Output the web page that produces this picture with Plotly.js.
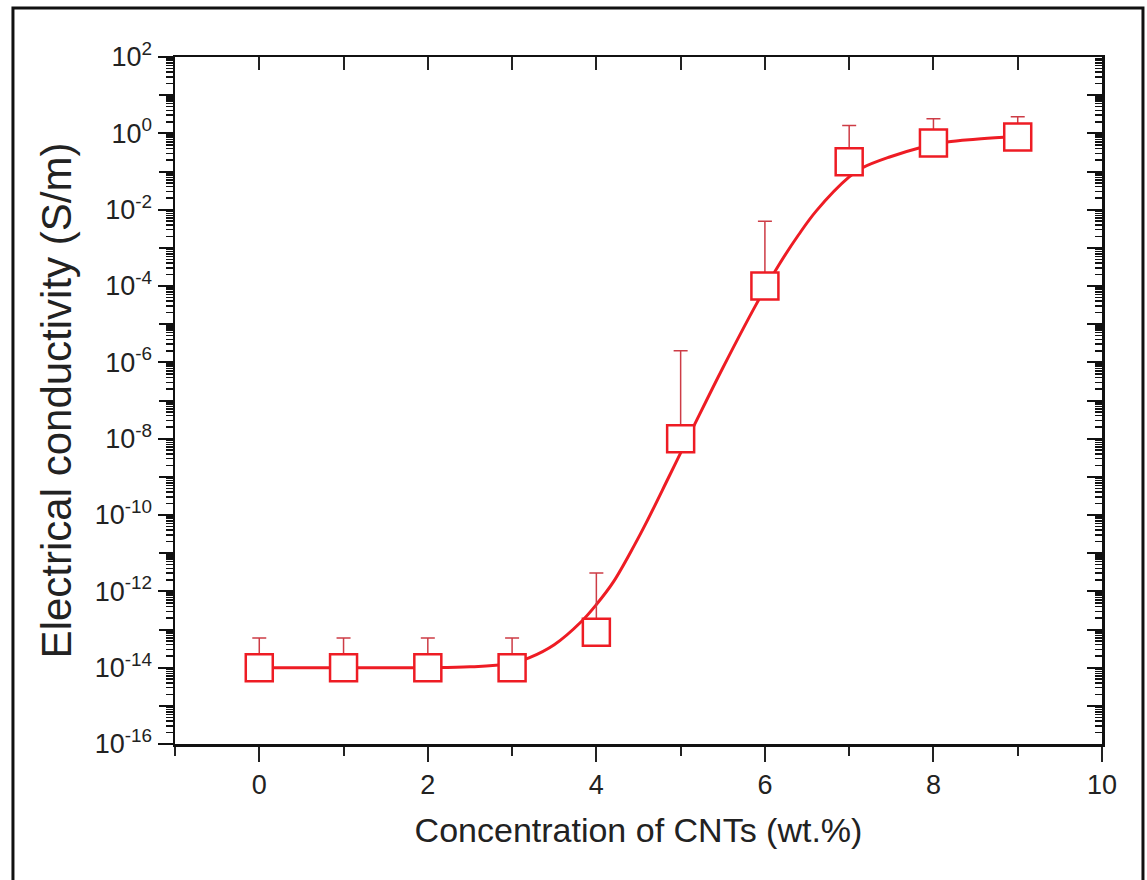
<!DOCTYPE html>
<html>
<head>
<meta charset="utf-8">
<script src="https://cdn.plot.ly/plotly-3.0.1.min.js"></script>
<style>
  html, body { margin: 0; padding: 0; background: #fff; }
  #chart { width: 1147px; height: 880px; }
</style>
</head>
<body>
<div id="chart"></div>
<script>
// Measured points: CNT concentration (wt.%) vs electrical conductivity (S/m)
const concentration = [0, 1, 2, 3, 4, 5, 6, 7, 8, 9];
const conductivity = [1.0e-14, 1.0e-14, 1.0e-14, 1.0e-14, 8.5e-14, 1.0e-8, 1.0e-4, 0.18, 0.56, 0.80];
const errorTop = [6.0e-14, 6.0e-14, 6.0e-14, 6.0e-14, 3.0e-12, 2.0e-6, 5.0e-3, 1.6, 2.4, 2.7];

// Fitted curve
const fitX = [0, 1, 2, 2.5, 3.0, 3.2, 3.5, 3.82, 4.0, 4.2, 4.45, 4.6, 4.87, 5.15, 5.5, 5.9, 6.18, 6.4, 6.61, 7.0, 7.16, 7.48, 7.84, 8.16, 8.5, 8.83, 9.0];
const fitY = [1.0e-14, 1.0e-14, 1.0e-14, 1.05e-14, 1.3e-14, 1.8e-14, 4.0e-14, 1.6e-13, 4.5e-13, 1.74e-12, 1.6e-11, 6.8e-11, 1.1e-9, 2.0e-8, 7.1e-7, 3.4e-5, 4.0e-4, 2.2e-3, 9.3e-3, 0.072, 0.126, 0.24, 0.42, 0.59, 0.70, 0.79, 0.83];

// Axis ticks
const yLabelVals = [1e-16, 1e-14, 1e-12, 1e-10, 1e-8, 1e-6, 1e-4, 1e-2, 1e0, 1e2];
const yLabelText = ['10<sup>-16</sup>', '10<sup>-14</sup>', '10<sup>-12</sup>', '10<sup>-10</sup>', '10<sup>-8</sup>', '10<sup>-6</sup>', '10<sup>-4</sup>', '10<sup>-2</sup>', '10<sup>0</sup>', '10<sup>2</sup>'];
const yOddDecades = [1e-15, 1e-13, 1e-11, 1e-9, 1e-7, 1e-5, 1e-3, 1e-1, 1e1];
const yAllDecades = [1e-16, 1e-15, 1e-14, 1e-13, 1e-12, 1e-11, 1e-10, 1e-9, 1e-8, 1e-7, 1e-6, 1e-5, 1e-4, 1e-3, 1e-2, 1e-1, 1e0, 1e1, 1e2];
const xTickVals = [0, 2, 4, 6, 8, 10];
const xTickText = ['0', '2', '4', '6', '8', '10'];

const errPlus = conductivity.map((v, i) => errorTop[i] - v);
const RED = 'rgb(238,28,36)';
const FONT = '"Liberation Sans", Arial, sans-serif';

const traces = [
  {
    x: fitX, y: fitY, type: 'scatter', mode: 'lines',
    line: { color: RED, width: 3, shape: 'spline', smoothing: 1 },
    hoverinfo: 'skip', showlegend: false
  },
  {
    x: concentration, y: conductivity, type: 'scatter', mode: 'markers',
    marker: { symbol: 'square', size: 27, color: '#ffffff', line: { color: RED, width: 2.5 } },
    error_y: { type: 'data', symmetric: false, array: errPlus, arrayminus: conductivity.map(() => 0),
               color: 'rgb(205,60,70)', thickness: 1.5, width: 7 },
    showlegend: false
  },
  {
    x: concentration, y: conductivity, xaxis: 'x2', yaxis: 'y2', type: 'scatter', mode: 'markers',
    marker: { opacity: 0 }, hoverinfo: 'skip', showlegend: false
  },
  {
    x: concentration, y: conductivity, xaxis: 'x', yaxis: 'y3', type: 'scatter', mode: 'markers',
    marker: { opacity: 0 }, hoverinfo: 'skip', showlegend: false
  }
];

const layout = {
  width: 1147, height: 880,
  margin: { l: 175, r: 45, t: 57, b: 136 },
  paper_bgcolor: '#fff', plot_bgcolor: '#fff',
  font: { family: FONT, color: '#222' },
  showlegend: false,
  xaxis: {
    range: [-1, 10], tickvals: xTickVals, ticktext: xTickText,
    ticks: 'outside', ticklen: 15, tickwidth: 2, tickcolor: '#222',
    minor: { dtick: 1, tick0: 0, ticks: 'outside', ticklen: 9, tickwidth: 2, tickcolor: '#222' },
    showline: true, linecolor: '#111', linewidth: 2.5,
    showgrid: false, zeroline: false,
    tickfont: { size: 27, color: '#222', family: FONT },
    title: { text: 'Concentration of CNTs (wt.%)', font: { size: 34, color: '#222', family: FONT }, standoff: 20 }
  },
  xaxis2: {
    overlaying: 'x', side: 'top', range: [-1, 10], dtick: 1, tick0: 0,
    ticks: 'inside', ticklen: 13, tickwidth: 2, tickcolor: '#222',
    showticklabels: false, showline: true, linecolor: '#111', linewidth: 2.5,
    showgrid: false, zeroline: false
  },
  yaxis: {
    type: 'log', range: [-16, 2], tickvals: yLabelVals, ticktext: yLabelText,
    ticks: 'outside', ticklen: 15, tickwidth: 2, tickcolor: '#111',
    minor: { dtick: 'D1', ticks: 'outside', ticklen: 7, tickwidth: 1.5, tickcolor: '#111' },
    showline: true, linecolor: '#111', linewidth: 2.5,
    showgrid: false, zeroline: false,
    tickfont: { size: 27, color: '#222', family: FONT },
    title: { text: 'Electrical conductivity (S/m)', font: { size: 42, color: '#222', family: FONT }, standoff: 10 }
  },
  yaxis3: {
    type: 'log', overlaying: 'y', side: 'left', range: [-16, 2], tickvals: yOddDecades,
    ticks: 'outside', ticklen: 15, tickwidth: 2, tickcolor: '#111',
    showticklabels: false, showline: false, showgrid: false, zeroline: false
  },
  yaxis2: {
    type: 'log', overlaying: 'y', side: 'right', range: [-16, 2], tickvals: yAllDecades,
    ticks: 'inside', ticklen: 15, tickwidth: 2, tickcolor: '#111',
    minor: { dtick: 'D1', ticks: 'inside', ticklen: 7, tickwidth: 1.5, tickcolor: '#111' },
    showticklabels: false, showline: true, linecolor: '#111', linewidth: 2.5,
    showgrid: false, zeroline: false
  },
  shapes: [
    { type: 'rect', xref: 'paper', yref: 'paper', x0: -0.1748, x1: 1.0442, y0: -0.3, y1: 1.0713,
      line: { color: '#111', width: 3 }, fillcolor: 'rgba(0,0,0,0)', layer: 'below' }
  ]
};

Plotly.newPlot('chart', traces, layout, { displayModeBar: false, staticPlot: true });
</script>
</body>
</html>
